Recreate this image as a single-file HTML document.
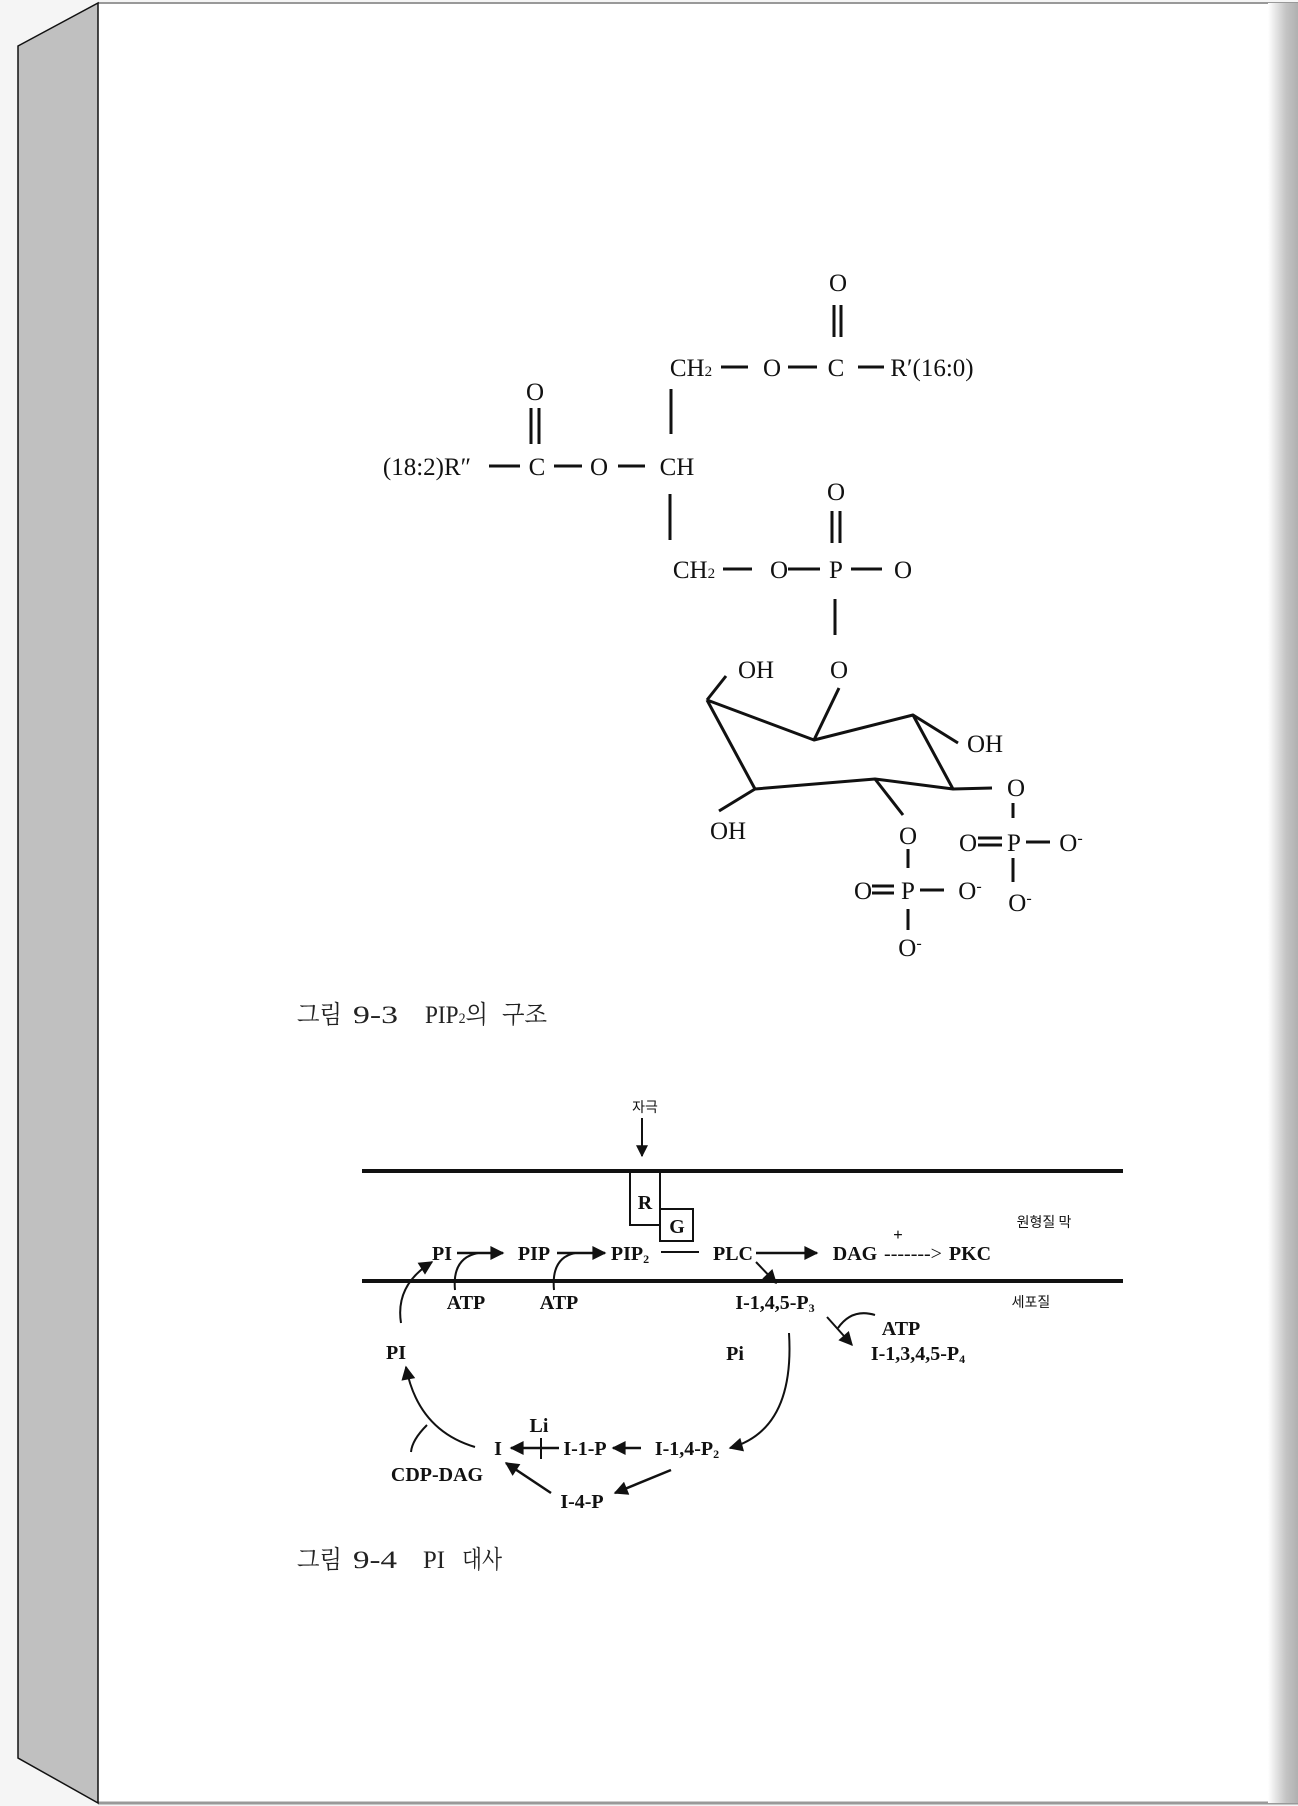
<!DOCTYPE html>
<html><head><meta charset="utf-8"><style>
html,body{margin:0;padding:0;background:#f5f5f5;}
svg{display:block}
.s{font-family:"Liberation Serif","Noto Serif CJK SC",serif;font-size:25px;fill:#111}
.d{font-family:"Liberation Serif","Noto Sans CJK KR",serif;font-size:20px;font-weight:bold;fill:#111}
.k{font-family:"Noto Sans CJK KR","NanumGothic",sans-serif;font-size:14px;fill:#111}
.c{font-family:"Liberation Serif","Noto Serif CJK SC","NanumGothic",serif;font-size:25px;fill:#222}
</style></head><body>
<svg width="1298" height="1806" viewBox="0 0 1298 1806" xmlns="http://www.w3.org/2000/svg">
<defs>
<linearGradient id="rs" x1="0" x2="1" y1="0" y2="0">
<stop offset="0" stop-color="#fff"/><stop offset="0.6" stop-color="#c4c4c4"/><stop offset="1" stop-color="#b0b0b0"/></linearGradient>
<marker id="ah" viewBox="0 0 10 10" refX="9" refY="5" markerWidth="12" markerHeight="18" orient="auto-start-reverse" markerUnits="userSpaceOnUse">
<path d="M0,0 L10,5 L0,10 z" fill="#111"/></marker>
<marker id="ab" viewBox="0 0 10 10" refX="9" refY="5" markerWidth="16" markerHeight="14" orient="auto" markerUnits="userSpaceOnUse">
<path d="M0,0 L10,5 L0,10 z" fill="#111"/></marker>
</defs>
<rect x="98" y="3" width="1200" height="1800" fill="#fff"/>
<line x1="98" y1="3" x2="1298" y2="3" stroke="#999" stroke-width="2"/>
<line x1="98" y1="1803" x2="1298" y2="1803" stroke="#999" stroke-width="3"/>
<rect x="1268" y="3" width="30" height="1800" fill="url(#rs)"/>
<polygon points="18,46 98,3 98,1803 18,1758" fill="#c0c0c0" stroke="#111" stroke-width="1.5"/>

<g class="s" stroke="#111" stroke-width="3" text-anchor="middle">
<g stroke="none">
<text x="838" y="291">O</text>
<text x="691" y="376">CH<tspan font-size="15">2</tspan></text>
<text x="772" y="376">O</text>
<text x="836" y="376">C</text>
<text x="932" y="376">R′(16:0)</text>
<text x="535" y="400">O</text>
<text x="427" y="475">(18:2)R″</text>
<text x="537" y="475">C</text>
<text x="599" y="475">O</text>
<text x="677" y="475">CH</text>
<text x="836" y="500">O</text>
<text x="694" y="578">CH<tspan font-size="15">2</tspan></text>
<text x="779" y="578">O</text>
<text x="836" y="578">P</text>
<text x="903" y="578">O</text>
<text x="839" y="678">O</text>
<text x="756" y="678">OH</text>
<text x="985" y="752">OH</text>
<text x="1016" y="796">O</text>
<text x="728" y="839">OH</text>
<text x="908" y="844">O</text>
<text x="968" y="851">O</text>
<text x="1014" y="851">P</text>
<text x="1071" y="851">O<tspan dy="-8" font-size="16">-</tspan></text>
<text x="1020" y="911">O<tspan dy="-8" font-size="16">-</tspan></text>
<text x="863" y="899">O</text>
<text x="908" y="899">P</text>
<text x="970" y="899">O<tspan dy="-8" font-size="16">-</tspan></text>
<text x="910" y="956">O<tspan dy="-8" font-size="16">-</tspan></text>
</g>
<line x1="834" y1="305" x2="834" y2="337"/><line x1="841" y1="305" x2="841" y2="337"/>
<line x1="721" y1="367" x2="748" y2="367"/><line x1="788" y1="367" x2="817" y2="367"/><line x1="858" y1="367" x2="884" y2="367"/>
<line x1="671" y1="389" x2="671" y2="434"/>
<line x1="531" y1="408" x2="531" y2="444"/><line x1="539" y1="408" x2="539" y2="444"/>
<line x1="489" y1="466" x2="520" y2="466"/><line x1="554" y1="466" x2="582" y2="466"/><line x1="618" y1="466" x2="645" y2="466"/>
<line x1="670" y1="494" x2="670" y2="540"/>
<line x1="832" y1="511" x2="832" y2="543"/><line x1="840" y1="511" x2="840" y2="543"/>
<line x1="723" y1="569" x2="752" y2="569"/><line x1="788" y1="569" x2="820" y2="569"/><line x1="851" y1="569" x2="882" y2="569"/>
<line x1="835" y1="599" x2="835" y2="635"/>
<polyline fill="none" stroke-width="3" stroke-linejoin="round" points="707,700 814,740 913,715 953,789 875,779 755,789 707,700"/>
<line x1="707" y1="700" x2="726" y2="676"/>
<line x1="814" y1="740" x2="839" y2="688"/>
<line x1="913" y1="715" x2="958" y2="743"/>
<line x1="953" y1="789" x2="992" y2="788"/>
<line x1="755" y1="789" x2="719" y2="811"/>
<line x1="875" y1="779" x2="903" y2="815"/>
<line x1="1013" y1="803" x2="1013" y2="818"/>
<line x1="978" y1="838" x2="1002" y2="838"/><line x1="978" y1="845" x2="1002" y2="845"/>
<line x1="1026" y1="842" x2="1050" y2="842"/>
<line x1="1013" y1="858" x2="1013" y2="882"/>
<line x1="908" y1="849" x2="908" y2="868"/>
<line x1="872" y1="886" x2="894" y2="886"/><line x1="872" y1="893" x2="894" y2="893"/>
<line x1="920" y1="890" x2="944" y2="890"/>
<line x1="908" y1="909" x2="908" y2="930"/>
</g>
<g class="c">
<text x="297" y="1023" textLength="45" lengthAdjust="spacingAndGlyphs">그림</text>
<text x="353" y="1023" textLength="45" lengthAdjust="spacingAndGlyphs">9-3</text>
<text x="425" y="1023" textLength="63" lengthAdjust="spacingAndGlyphs">PIP<tspan font-size="15">2</tspan>의</text>
<text x="502" y="1023" textLength="45" lengthAdjust="spacingAndGlyphs">구조</text>
<text x="297" y="1568" textLength="45" lengthAdjust="spacingAndGlyphs">그림</text>
<text x="353" y="1568" textLength="44" lengthAdjust="spacingAndGlyphs">9-4</text>
<text x="423" y="1568" textLength="22" lengthAdjust="spacingAndGlyphs">PI</text>
<text x="462" y="1568" textLength="40" lengthAdjust="spacingAndGlyphs">대사</text>
</g>

<g stroke="#111" fill="none" stroke-width="2">
<line x1="362" y1="1171" x2="1123" y2="1171" stroke-width="4"/>
<line x1="362" y1="1281" x2="1123" y2="1281" stroke-width="4"/>
<line x1="642" y1="1118" x2="642" y2="1156" marker-end="url(#ah)" stroke-width="2"/>
<polyline points="630,1173 630,1225 660,1225"/><line x1="660" y1="1173" x2="660" y2="1209"/>
<rect x="660" y="1209" width="33" height="32"/>
<line x1="457" y1="1253" x2="503" y2="1253" marker-end="url(#ab)" stroke-width="2.5"/>
<line x1="557" y1="1253" x2="605" y2="1253" marker-end="url(#ab)" stroke-width="2.5"/>
<line x1="661" y1="1252" x2="699" y2="1252"/>
<line x1="756" y1="1253" x2="817" y2="1253" marker-end="url(#ab)" stroke-width="2.5"/>
<path d="M455,1290 Q452,1258 478,1253"/>
<path d="M554,1290 Q551,1258 575,1253"/>
<line x1="756" y1="1262" x2="776" y2="1283" marker-end="url(#ab)" stroke-width="2"/>
<line x1="827" y1="1317" x2="852" y2="1345" marker-end="url(#ab)" stroke-width="2"/>
<path d="M875,1315 Q852,1308 838,1328"/>
<path d="M789,1333 Q795,1430 730,1448" marker-end="url(#ab)"/>
<path d="M401,1323 Q395,1285 432,1262" marker-end="url(#ab)"/>
<path d="M475,1447 Q418,1430 406,1367" marker-end="url(#ab)"/>
<path d="M427,1425 Q412,1440 411,1452"/>
<line x1="559" y1="1448" x2="511" y2="1448" marker-end="url(#ab)" stroke-width="2.5"/>
<line x1="541" y1="1438" x2="541" y2="1459"/>
<line x1="641" y1="1448" x2="613" y2="1448" marker-end="url(#ab)" stroke-width="2.5"/>
<line x1="671" y1="1470" x2="615" y2="1493" marker-end="url(#ab)" stroke-width="2.5"/>
<line x1="551" y1="1493" x2="506" y2="1463" marker-end="url(#ab)" stroke-width="2.5"/>
</g>
<g class="d" text-anchor="middle">
<text x="645" y="1209" font-size="20">R</text>
<text x="677" y="1233" font-size="20">G</text>
<text x="442" y="1260">PI</text>
<text x="534" y="1260">PIP</text>
<text x="630" y="1260">PIP<tspan font-size="12" dy="3">2</tspan></text>
<text x="733" y="1260">PLC</text>
<text x="855" y="1260">DAG</text>
<text x="913" y="1260" font-weight="normal">-------&gt;</text>
<text x="970" y="1260">PKC</text>
<text x="898" y="1240" font-size="17">+</text>
<text x="466" y="1309">ATP</text>
<text x="559" y="1309">ATP</text>
<text x="775" y="1309">I-1,4,5-P<tspan font-size="12" dy="3">3</tspan></text>
<text x="901" y="1335">ATP</text>
<text x="918" y="1360">I-1,3,4,5-P<tspan font-size="12" dy="3">4</tspan></text>
<text x="735" y="1360">Pi</text>
<text x="396" y="1359">PI</text>
<text x="539" y="1432">Li</text>
<text x="498" y="1455">I</text>
<text x="585" y="1455">I-1-P</text>
<text x="687" y="1455">I-1,4-P<tspan font-size="12" dy="3">2</tspan></text>
<text x="582" y="1508">I-4-P</text>
<text x="437" y="1481">CDP-DAG</text>
</g>
<text class="k" x="645" y="1112" text-anchor="middle">자극</text>
<text class="k" x="1044" y="1227" text-anchor="middle">원형질 막</text>
<text class="k" x="1031" y="1307" text-anchor="middle">세포질</text>
</svg>
</body></html>
